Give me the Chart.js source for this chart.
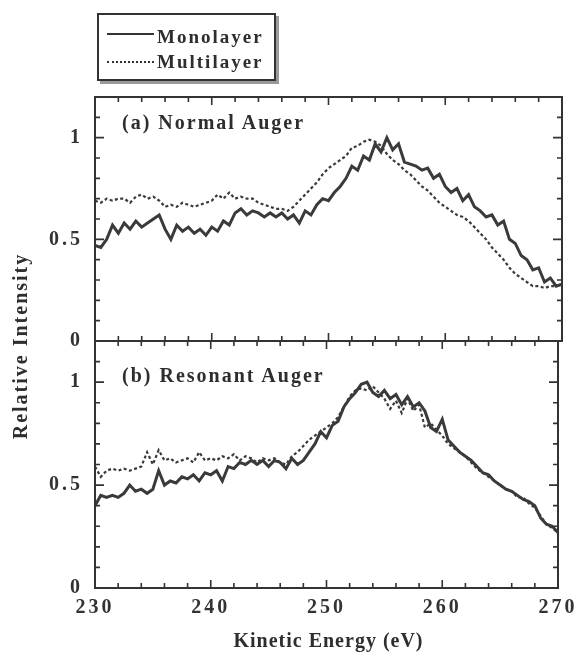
<!DOCTYPE html>
<html>
<head>
<meta charset="utf-8">
<script src="https://cdn.jsdelivr.net/npm/chart.js@4.4.0/dist/chart.umd.min.js"></script>
<style>
    body { margin: 0; background: #fff; }
    #wrap {
        position: relative;
        width: 581px;
        height: 659px;
        font-family: "Liberation Serif", "DejaVu Serif", serif;
        font-weight: bold;
        color: #2e2e2e;
        overflow: hidden;
    }
    #wrap canvas { position: absolute; left: 0; top: 0; }
    .txt { position: absolute; white-space: nowrap; }

    .legend {
        position: absolute;
        left: 97px; top: 13px;
        width: 175px; height: 64px;
        border: 2px solid #333;
        box-shadow: 3px 3px 0 #9a9a9a;
        background: #fff;
    }
    .legend .sample { position: absolute; left: 8px; width: 47px; height: 0; }
    .legend .solid { top: 18px; border-top: 2px solid #333; }
    .legend .dotted { top: 46px; border-top: 2px dotted #333; }
    .legend .label { position: absolute; left: 58px; font-size: 19px; line-height: 19px; letter-spacing: 2px; }

    .panel-label { font-size: 20px; line-height: 20px; letter-spacing: 2px; }
    .axis-title { font-size: 20px; line-height: 20px; }
    #xTitle { left: 95px; width: 467px; top: 630px; text-align: center; letter-spacing: 1px; }
    #yTitle {
        left: -130px; top: 334px;
        width: 300px; height: 24px; line-height: 24px;
        text-align: center;
        letter-spacing: 2px;
        transform: rotate(-90deg);
    }
</style>
</head>
<body>
<div id="wrap">
    <canvas id="chartA" width="581" height="659"></canvas>
    <canvas id="chartB" width="581" height="659"></canvas>

    <div class="legend">
        <div class="sample solid"></div>
        <div class="sample dotted"></div>
        <div class="label" style="top:12px">Monolayer</div>
        <div class="label" style="top:37px">Multilayer</div>
    </div>

    <div class="txt panel-label" style="left:122px; top:112px">(a) Normal Auger</div>
    <div class="txt panel-label" style="left:122px; top:365px">(b) Resonant Auger</div>

    <div class="txt axis-title" id="xTitle">Kinetic Energy (eV)</div>
    <div class="txt axis-title" id="yTitle">Relative Intensity</div>
</div>

<script>
// Kinetic energy grid (eV)
const energy = [
    230, 230.5, 231, 231.5, 232, 232.5, 233, 233.5, 234, 234.5,
    235, 235.5, 236, 236.5, 237, 237.5, 238, 238.5, 239, 239.5,
    240, 240.5, 241, 241.5, 242, 242.5, 243, 243.5, 244, 244.5,
    245, 245.5, 246, 246.5, 247, 247.5, 248, 248.5, 249, 249.5,
    250, 250.5, 251, 251.5, 252, 252.5, 253, 253.5, 254, 254.5,
    255, 255.5, 256, 256.5, 257, 257.5, 258, 258.5, 259, 259.5,
    260, 260.5, 261, 261.5, 262, 262.5, 263, 263.5, 264, 264.5,
    265, 265.5, 266, 266.5, 267, 267.5, 268, 268.5, 269, 269.5,
    270
];

// (a) Normal Auger
const normalMono = [
    0.47, 0.46, 0.50, 0.57, 0.53, 0.58, 0.55, 0.59, 0.56, 0.58,
    0.60, 0.62, 0.55, 0.50, 0.57, 0.54, 0.56, 0.53, 0.55, 0.52,
    0.56, 0.54, 0.59, 0.57, 0.63, 0.65, 0.62, 0.64, 0.63, 0.61,
    0.63, 0.61, 0.63, 0.60, 0.62, 0.58, 0.64, 0.62, 0.67, 0.70,
    0.69, 0.73, 0.76, 0.80, 0.86, 0.84, 0.91, 0.89, 0.97, 0.93,
    1.00, 0.94, 0.97, 0.88, 0.87, 0.86, 0.84, 0.85, 0.80, 0.82,
    0.76, 0.73, 0.75, 0.69, 0.72, 0.66, 0.64, 0.61, 0.62, 0.57,
    0.59, 0.50, 0.48, 0.42, 0.40, 0.35, 0.36, 0.29, 0.31, 0.27,
    0.28
];
const normalMulti = [
    0.69, 0.68, 0.70, 0.69, 0.70, 0.70, 0.68, 0.71, 0.72, 0.70,
    0.71, 0.69, 0.66, 0.67, 0.66, 0.68, 0.67, 0.66, 0.67, 0.68,
    0.69, 0.72, 0.70, 0.73, 0.70, 0.71, 0.70, 0.70, 0.68, 0.67,
    0.66, 0.65, 0.65, 0.64, 0.66, 0.69, 0.72, 0.75, 0.78, 0.82,
    0.85, 0.87, 0.89, 0.91, 0.95, 0.96, 0.98, 0.99, 0.98, 0.96,
    0.92, 0.89, 0.87, 0.84, 0.82, 0.79, 0.76, 0.74, 0.71, 0.68,
    0.66, 0.64, 0.62, 0.61, 0.59, 0.56, 0.53, 0.50, 0.46, 0.43,
    0.40, 0.36, 0.33, 0.31, 0.29, 0.27, 0.27, 0.26, 0.27, 0.27,
    0.28
];

// (b) Resonant Auger
const resonantMono = [
    0.40, 0.45, 0.44, 0.45, 0.44, 0.46, 0.50, 0.47, 0.48, 0.46,
    0.48, 0.57, 0.50, 0.52, 0.51, 0.54, 0.53, 0.55, 0.52, 0.56,
    0.55, 0.57, 0.52, 0.59, 0.58, 0.61, 0.60, 0.62, 0.60, 0.62,
    0.59, 0.62, 0.61, 0.58, 0.63, 0.60, 0.62, 0.66, 0.70, 0.76,
    0.73, 0.79, 0.81, 0.88, 0.92, 0.95, 0.99, 1.00, 0.95, 0.93,
    0.96, 0.92, 0.94, 0.89, 0.93, 0.88, 0.90, 0.86, 0.78, 0.76,
    0.82, 0.72, 0.69, 0.66, 0.64, 0.62, 0.59, 0.56, 0.55, 0.52,
    0.50, 0.48, 0.47, 0.45, 0.43, 0.42, 0.40, 0.34, 0.31, 0.30,
    0.27
];
const resonantMulti = [
    0.59, 0.54, 0.57, 0.58, 0.57, 0.58, 0.57, 0.58, 0.59, 0.66,
    0.60, 0.67, 0.62, 0.63, 0.61, 0.62, 0.63, 0.61, 0.66, 0.62,
    0.63, 0.62, 0.64, 0.63, 0.65, 0.62, 0.64, 0.63, 0.61, 0.63,
    0.62, 0.63, 0.61, 0.60, 0.64, 0.66, 0.69, 0.72, 0.74, 0.76,
    0.78, 0.80, 0.83, 0.88, 0.93, 0.96, 0.97, 0.96, 0.98, 0.95,
    0.92, 0.87, 0.91, 0.85, 0.92, 0.86, 0.89, 0.78, 0.80, 0.77,
    0.74, 0.70, 0.68, 0.66, 0.64, 0.61, 0.58, 0.56, 0.54, 0.52,
    0.50, 0.48, 0.47, 0.44, 0.44, 0.41, 0.39, 0.35, 0.31, 0.29,
    0.27
];

// Axis ticks
const xMajorTicks = [230, 240, 250, 260, 270];
const xMinorStep = 2;
const yLabelTicks = [0, 0.5, 1];
const yMinorStep = 0.1;

const INK = '#333333';
const LINE = '#3a3a3a';
const tickFont = { family: '"Liberation Serif", "DejaVu Serif", serif', size: 20, weight: 'bold' };

function toPoints(values) {
    return energy.map((e, i) => ({ x: e, y: values[i] }));
}

function makeDatasets(mono, multi) {
    return [
        {
            label: 'Monolayer',
            data: toPoints(mono),
            borderColor: LINE,
            borderWidth: 3,
            pointRadius: 0,
            tension: 0
        },
        {
            label: 'Multilayer',
            data: toPoints(multi),
            borderColor: LINE,
            borderWidth: 2.2,
            borderDash: [3, 2.5],
            pointRadius: 0,
            tension: 0
        }
    ];
}

// Frame and inward-pointing ticks on all four sides
const frameTicks = {
    id: 'frameTicks',
    beforeDraw(chart) {
        chart.ctx.letterSpacing = '3px';
    },
    afterDatasetsDraw(chart) {
        const { ctx, chartArea: a, scales } = chart;
        const xs = scales.x, ys = scales.y;
        ctx.save();
        ctx.strokeStyle = INK;
        ctx.lineWidth = 1.6;
        ctx.beginPath();

        for (let v = xs.min; v <= xs.max + 1e-9; v += xMinorStep) {
            const px = xs.getPixelForValue(v);
            const len = xMajorTicks.includes(Math.round(v)) ? 8 : 5;
            ctx.moveTo(px, a.bottom); ctx.lineTo(px, a.bottom - len);
            ctx.moveTo(px, a.top); ctx.lineTo(px, a.top + len);
        }
        for (let k = 0; k * yMinorStep <= ys.max + 1e-9; k++) {
            const py = ys.getPixelForValue(k * yMinorStep);
            const len = (k % 5 === 0) ? 9 : 5;
            ctx.moveTo(a.left, py); ctx.lineTo(a.left + len, py);
            ctx.moveTo(a.right, py); ctx.lineTo(a.right - len, py);
        }
        ctx.stroke();

        ctx.lineWidth = 2;
        ctx.strokeRect(a.left, a.top, a.right - a.left, a.bottom - a.top);
        ctx.restore();
    }
};

function yScale() {
    return {
        min: 0,
        max: 1.2,
        afterFit: s => { s.width = 95; },
        grid: { display: false, drawTicks: false },
        border: { display: false },
        ticks: {
            stepSize: yMinorStep,
            autoSkip: false,
            padding: 12,
            color: INK,
            font: tickFont,
            callback: v => {
                const hit = yLabelTicks.find(t => Math.abs(t - v) < 1e-6);
                return hit === undefined ? '' : String(hit);
            }
        }
    };
}

function baseOptions(padding) {
    return {
        responsive: false,
        animation: false,
        layout: { padding },
        plugins: { legend: { display: false }, tooltip: { enabled: false } }
    };
}

// Upper panel: normal Auger
new Chart(document.getElementById('chartA'), {
    type: 'line',
    data: { datasets: makeDatasets(normalMono, normalMulti) },
    options: {
        ...baseOptions({ top: 97, right: 19, bottom: 318, left: 0 }),
        scales: {
            x: { type: 'linear', min: 230, max: 270, display: false },
            y: yScale()
        }
    },
    plugins: [frameTicks]
});

// Lower panel: resonant Auger, carries the energy axis labels
new Chart(document.getElementById('chartB'), {
    type: 'line',
    data: { datasets: makeDatasets(resonantMono, resonantMulti) },
    options: {
        ...baseOptions({ top: 341, right: 19, bottom: 0, left: 0 }),
        scales: {
            x: {
                type: 'linear',
                min: 230,
                max: 270,
                afterFit: s => { s.height = 71; },
                afterBuildTicks: s => { s.ticks = xMajorTicks.map(v => ({ value: v })); },
                grid: { display: false, drawTicks: false },
                border: { display: false },
                ticks: { padding: 8, color: INK, font: tickFont, maxRotation: 0 }
            },
            y: yScale()
        }
    },
    plugins: [frameTicks]
});
</script>
</body>
</html>
